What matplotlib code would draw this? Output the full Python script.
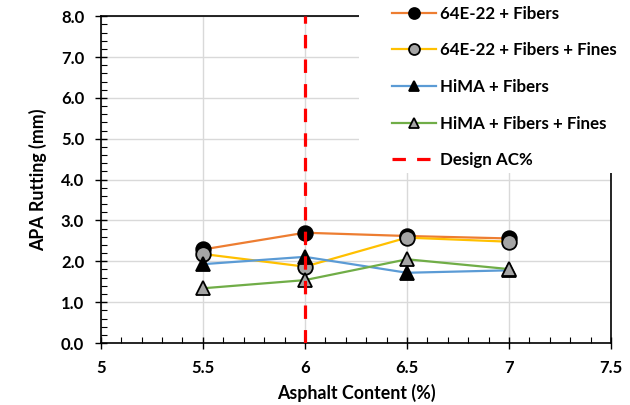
import matplotlib
matplotlib.use("Agg")
import matplotlib.pyplot as plt
from matplotlib.patches import Rectangle
from matplotlib.ticker import MultipleLocator, FuncFormatter

plt.rcParams["font.family"] = ["Lato", "DejaVu Sans"]
plt.rcParams["font.weight"] = "bold"

# ── data ─────────────────────────────────────────────────────────────────────
ac_pct = [5.5, 6.0, 6.5, 7.0]
rut_64e_fib = [2.29, 2.70, 2.62, 2.56]
rut_64e_fib_fines = [2.18, 1.87, 2.58, 2.48]
rut_hima_fib = [1.93, 2.11, 1.72, 1.78]
rut_hima_fib_fines = [1.34, 1.54, 2.05, 1.81]
design_ac = 6.0

series = [
    ("64E-22 + Fibers", rut_64e_fib, "#ED7D31", "o", "black"),
    ("64E-22 + Fibers + Fines", rut_64e_fib_fines, "#FFC000", "o", "#A5A5A5"),
    ("HiMA + Fibers", rut_hima_fib, "#5B9BD5", "^", "black"),
    ("HiMA + Fibers + Fines", rut_hima_fib_fines, "#70AD47", "^", "#A5A5A5"),
]

fig = plt.figure(figsize=(6.3, 4.05), dpi=100)
ax = fig.add_axes([0.160, 0.153, 0.810, 0.807])

handles = []
for label, vals, col, mk, face in series:
    h, = ax.plot(ac_pct, vals, "-", color=col, lw=1.6, marker=mk, ms=10.5,
                 mfc=face, mec="black", mew=1.3, label=label, zorder=4)
    handles.append(h)

h, = ax.plot([design_ac, design_ac], [0, 8], color="#FF0000", lw=2.3,
             dashes=(4.2, 3.5), label="Design AC%", zorder=5)
handles.append(h)

ax.set_xlim(5, 7.5)
ax.set_ylim(0, 8)
ax.xaxis.set_major_locator(MultipleLocator(0.5))
ax.xaxis.set_minor_locator(MultipleLocator(0.1))
ax.yaxis.set_major_locator(MultipleLocator(1.0))
ax.yaxis.set_minor_locator(MultipleLocator(0.2))
ax.xaxis.set_major_formatter(FuncFormatter(lambda v, p: f"{v:g}"))
ax.yaxis.set_major_formatter(FuncFormatter(lambda v, p: f"{v:.1f}"))
ax.tick_params(which="major", direction="inout", length=8, width=1.0,
               labelsize=12)
ax.tick_params(axis="x", which="major", pad=8)
ax.tick_params(axis="y", which="major", pad=8)
ax.tick_params(which="minor", direction="in", length=4, width=0.8)
ax.grid(True, which="major", color="#D9D9D9", lw=1.0, zorder=0)
ax.set_axisbelow(True)
for s in ax.spines.values():
    s.set_linewidth(1.2)
    s.set_color("black")

ax.set_xlabel("Asphalt Content (%)", fontsize=12.8, fontweight="bold", labelpad=6)
ax.set_ylabel("APA Rutting (mm)", fontsize=12.8, fontweight="bold", labelpad=10)

# white panel behind the legend, overlapping the plot corner
fig.patches.append(Rectangle((359 / 630, 1 - 173 / 405), 1, 1,
                             transform=fig.transFigure, facecolor="white",
                             edgecolor="none", zorder=3))

leg = fig.legend(handles=handles, loc="upper left",
                 bbox_to_anchor=(390 / 630, 1 - 4 / 405), frameon=False,
                 fontsize=12.2, handlelength=2.6, handletextpad=0.25,
                 labelspacing=1.22, borderaxespad=0.0, borderpad=0.1,
                 markerscale=0.75)
leg.set_zorder(6)
for t in leg.get_texts():
    t.set_fontweight("bold")

fig.savefig("out.png", dpi=100)
